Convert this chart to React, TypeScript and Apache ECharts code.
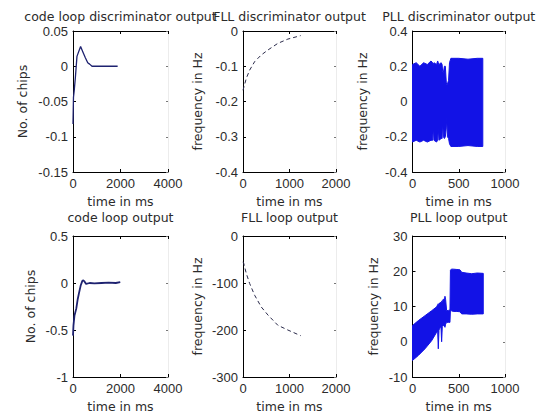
import React, { useEffect, useRef } from "react";
import * as echarts from "echarts";

// ---------- data ----------
const codeDiscT = [0, 20, 50, 100, 167, 320, 420, 520, 620, 700, 800, 1000, 1300, 1600, 1880];
const codeDiscV = [-0.082, -0.044, -0.035, -0.016, 0.014, 0.028, 0.02, 0.012, 0.005, 0.003, 0.0, 0.0, 0.0, 0.0, 0.0];

const fllDiscT = [0, 72, 143, 250, 393, 535, 750, 964, 1215, 1240];
const fllDiscV = [-0.168, -0.134, -0.111, -0.087, -0.068, -0.054, -0.035, -0.023, -0.014, -0.013];

const pllDiscT = [0, 40, 80, 120, 160, 200, 218, 225, 232, 260, 272, 279, 286, 310, 320, 326, 334, 345, 355, 365, 370, 378, 390, 400, 415, 500, 600, 700, 760];
const pllDiscUpper = [0.21, 0.22, 0.2, 0.22, 0.21, 0.23, 0.22, 0.21, 0.22, 0.21, 0.23, 0.22, 0.21, 0.22, 0.21, 0.17, 0.165, 0.2, 0.2, 0.11, 0.096, 0.1, 0.12, 0.22, 0.245, 0.245, 0.24, 0.245, 0.245];
const pllDiscLower = [-0.23, -0.22, -0.23, -0.22, -0.23, -0.22, -0.22, -0.14, -0.22, -0.23, -0.22, -0.15, -0.22, -0.21, -0.21, -0.11, -0.2, -0.21, -0.2, -0.15, -0.09, -0.2, -0.21, -0.24, -0.255, -0.255, -0.25, -0.255, -0.255];

const codeOutT = [0, 20, 60, 140, 200, 250, 320, 390, 420, 470, 550, 700, 900, 1200, 1500, 1800, 1990];
const codeOutV = [-0.56, -0.45, -0.35, -0.27, -0.17, -0.11, -0.03, 0.02, 0.03, 0.02, -0.01, 0.0, -0.005, 0.0, 0.005, 0.0, 0.01];

const fllOutT = [0, 15, 72, 143, 250, 393, 535, 750, 964, 1215, 1240];
const fllOutV = [-55, -58, -80, -101, -126, -151, -168, -190, -200, -211, -212];

const pllOutT = [0, 63, 135, 207, 261, 272, 279, 286, 300, 308, 315, 322, 333, 345, 351, 358, 369, 390, 405, 410, 420, 441, 480, 513, 532, 580, 640, 700, 765];
const pllOutUpper = [4.6, 6.0, 7.4, 8.8, 9.9, 10.5, 10.8, 10.6, 11.2, 11.0, 11.5, 11.4, 12.1, 11.8, 12.9, 12.0, 8.8, 8.9, 9.0, 20.3, 20.6, 20.6, 20.5, 20.4, 19.7, 19.5, 19.3, 19.5, 19.4];
const pllOutLower = [-5.3, -3.9, -2.0, 0.3, 2.7, 3.0, -2.0, 3.3, 4.1, 4.2, 0.0, 4.3, 4.6, 4.4, 4.1, 5.0, 5.5, 5.5, 5.5, 9.0, 8.8, 8.6, 8.6, 8.5, 7.9, 7.9, 7.8, 7.9, 7.9];

const xTicksCode = [0, 2000, 4000];
const xTicksFll = [0, 1000, 2000];
const xTicksPll = [0, 500, 1000];
const yTicksCodeDisc = [-0.15, -0.1, -0.05, 0, 0.05];
const yTicksFllDisc = [-0.4, -0.3, -0.2, -0.1, 0];
const yTicksPllDisc = [-0.4, -0.2, 0, 0.2, 0.4];
const yTicksCodeOut = [-1, -0.5, 0, 0.5];
const yTicksFllOut = [-300, -200, -100, 0];
const yTicksPllOut = [-10, 0, 10, 20, 30];

const titles = [
  "code loop discriminator output",
  "FLL discriminator output",
  "PLL discriminator output",
  "code loop output",
  "FLL loop output",
  "PLL loop output",
];
const xName = "time in ms";
const yNameChips = "No. of chips";
const yNameFreq = "frequency in Hz";

// ---------- layout / style ----------
const FONT = "DejaVu Sans";
const TICKFONT = "Liberation Sans";
const TXT = "#2b2b2b";
const NAVY = "#1e2270";
const BLUE = "#1212e6";

const colLeft = [73, 243, 412.5];
const colWidth = [95, 93, 92.5];
const rowTop = [31, 236];
const rowHeight = 141;
const titleY = [16.5, 217];
const yNameGaps = [44, 39, 44, 36, 39, 33];

const panelTicks = [
  [xTicksCode, yTicksCodeDisc, yNameChips],
  [xTicksFll, yTicksFllDisc, yNameFreq],
  [xTicksPll, yTicksPllDisc, yNameFreq],
  [xTicksCode, yTicksCodeOut, yNameChips],
  [xTicksFll, yTicksFllOut, yNameFreq],
  [xTicksPll, yTicksPllOut, yNameFreq],
] as const;

const nameStyle = { color: TXT, fontSize: 12.5, fontFamily: FONT };
const tickStyle = { color: TXT, fontSize: 13, fontFamily: TICKFONT };
const fmt = (v: number) => String(parseFloat(v.toFixed(6)));

function range(ticks: readonly number[]) {
  return { min: ticks[0], max: ticks[ticks.length - 1], interval: parseFloat((ticks[1] - ticks[0]).toFixed(6)) };
}

function pairs(t: number[], v: number[]) {
  return t.map((x, i) => [x, v[i]]);
}

function buildOption() {
  const grid: any[] = [];
  const xAxis: any[] = [];
  const yAxis: any[] = [];
  const graphic: any[] = [];
  panelTicks.forEach(([xt, yt, yName], i) => {
    const col = i % 3;
    const row = Math.floor(i / 3);
    grid.push({
      left: colLeft[col], top: rowTop[row], width: colWidth[col], height: rowHeight,
      containLabel: false, outerBoundsMode: "none",
    });
    const xr = range(xt);
    const yr = range(yt);
    const line = { show: true, onZero: false, lineStyle: { color: "#000", width: 1 } };
    const tick = { show: true, inside: true, length: 3, lineStyle: { color: "#000" } };
    xAxis.push({
      type: "value", gridIndex: i, position: "bottom", ...xr,
      name: xName, nameLocation: "middle", nameGap: 23, nameTextStyle: nameStyle, nameMoveOverlap: false,
      axisLine: line, axisTick: tick,
      axisLabel: { ...tickStyle, margin: 5, showMinLabel: true, showMaxLabel: true, formatter: fmt },
      splitLine: { show: false },
    });
    xAxis.push({
      type: "value", gridIndex: i, position: "top", ...xr,
      axisLine: line, axisTick: tick, axisLabel: { show: false }, splitLine: { show: false },
    });
    yAxis.push({
      type: "value", gridIndex: i, position: "left", ...yr,
      name: yName, nameLocation: "middle", nameRotate: 90, nameGap: yNameGaps[i], nameTextStyle: nameStyle,
      nameMoveOverlap: false,
      axisLine: line, axisTick: tick,
      axisLabel: { ...tickStyle, margin: 5, showMinLabel: true, showMaxLabel: true, formatter: fmt },
      splitLine: { show: false },
    });
    yAxis.push({
      type: "value", gridIndex: i, position: "right", ...yr,
      axisLine: { show: true, onZero: false, lineStyle: { color: "#ececec", width: 1 } },
      axisTick: { show: true, inside: true, length: 2, lineStyle: { color: "#777" } },
      axisLabel: { show: false }, splitLine: { show: false },
    });
    graphic.push({
      type: "text",
      x: colLeft[col] + colWidth[col] / 2,
      y: titleY[row],
      silent: true,
      style: { text: titles[i], fill: TXT, font: `12.5px "${FONT}"`, align: "center", verticalAlign: "middle" },
    });
  });

  const simple = (i: number, t: number[], v: number[], color: string, width: number, type: any = "solid") => ({
    type: "line", xAxisIndex: 2 * i, yAxisIndex: 2 * i, data: pairs(t, v),
    showSymbol: false, symbol: "none", lineStyle: { color, width, type }, z: 3,
  });

  // filled band between the lower and upper envelope of a fast oscillation
  const band = (i: number, t: number[], lo: number[], up: number[]) => ({
    type: "custom",
    xAxisIndex: 2 * i,
    yAxisIndex: 2 * i,
    data: t.map((x, k) => [x, lo[k], up[k]]),
    encode: { x: 0, y: [1, 2] },
    z: 3,
    renderItem: (params: any, api: any) => {
      if (params.dataIndex !== 0) return null;
      const top = t.map((x, k) => api.coord([x, up[k]]));
      const bottom = t.map((x, k) => api.coord([x, lo[k]])).reverse();
      return {
        type: "polygon",
        shape: { points: top.concat(bottom) },
        style: { fill: BLUE, stroke: BLUE, lineWidth: 1 },
      };
    },
  });

  const series: any[] = [
    simple(0, codeDiscT, codeDiscV, NAVY, 1.3),
    simple(1, fllDiscT, fllDiscV, "#2a2a4a", 1, [4, 3]),
    band(2, pllDiscT, pllDiscLower, pllDiscUpper),
    simple(3, codeOutT, codeOutV, NAVY, 1.8),
    simple(4, fllOutT, fllOutV, "#2a2a4a", 1, [4, 3]),
    band(5, pllOutT, pllOutLower, pllOutUpper),
  ];

  return {
    animation: false,
    backgroundColor: "#ffffff",
    grid, xAxis, yAxis, series, graphic,
  };
}

export default function App() {
  const ref = useRef<HTMLDivElement>(null);
  useEffect(() => {
    if (!ref.current) return;
    const chart = echarts.init(ref.current, undefined, { renderer: "svg" });
    chart.setOption(buildOption() as any);
    return () => chart.dispose();
  }, []);
  return (
    <div
      ref={ref}
      style={{ position: "fixed", left: 0, top: 0, width: 539, height: 415, background: "#fff" }}
    />
  );
}
